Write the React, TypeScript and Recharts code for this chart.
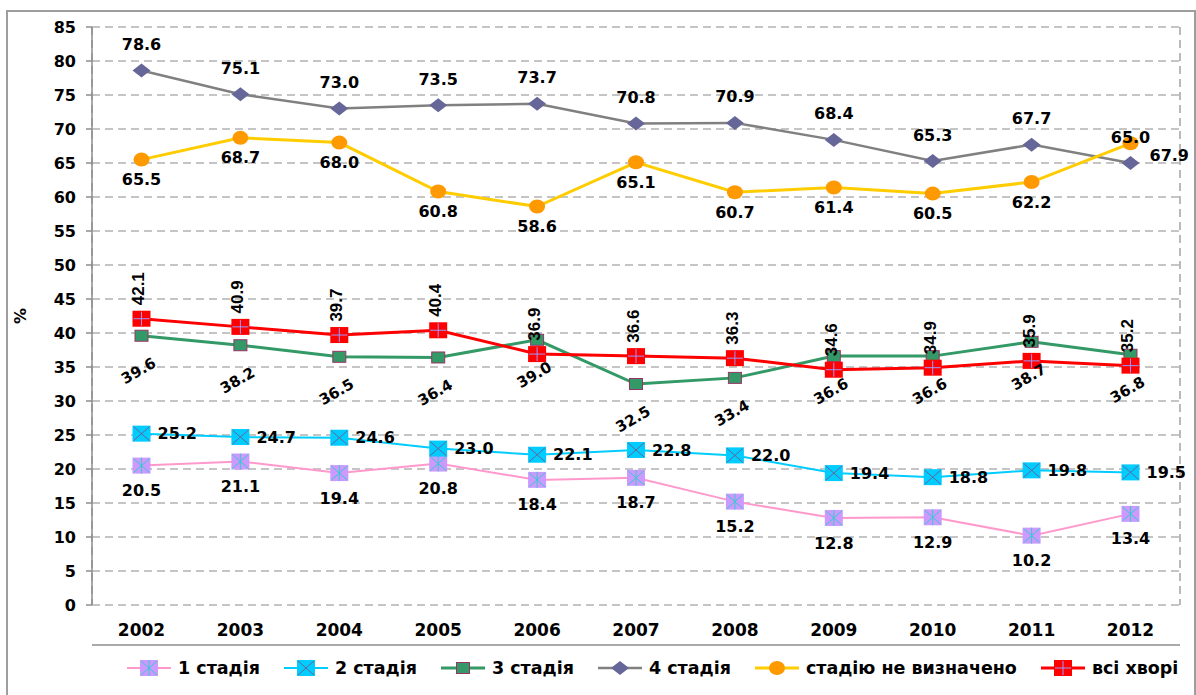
import React from 'react';
import { LineChart, Line, XAxis, YAxis, CartesianGrid, LabelList, Legend } from 'recharts';

const years = ['2002', '2003', '2004', '2005', '2006', '2007', '2008', '2009', '2010', '2011', '2012'];
const stage1 = [20.5, 21.1, 19.4, 20.8, 18.4, 18.7, 15.2, 12.8, 12.9, 10.2, 13.4];
const stage2 = [25.2, 24.7, 24.6, 23.0, 22.1, 22.8, 22.0, 19.4, 18.8, 19.8, 19.5];
const stage3 = [39.6, 38.2, 36.5, 36.4, 39.0, 32.5, 33.4, 36.6, 36.6, 38.7, 36.8];
const stage4 = [78.6, 75.1, 73.0, 73.5, 73.7, 70.8, 70.9, 68.4, 65.3, 67.7, 65.0];
const undetermined = [65.5, 68.7, 68.0, 60.8, 58.6, 65.1, 60.7, 61.4, 60.5, 62.2, 67.9];
const allPatients = [42.1, 40.9, 39.7, 40.4, 36.9, 36.6, 36.3, 34.6, 34.9, 35.9, 35.2];
const yTicks = [0, 5, 10, 15, 20, 25, 30, 35, 40, 45, 50, 55, 60, 65, 70, 75, 80, 85];
const bandBoundaries = [0, 1, 2, 3, 4, 5, 6, 7, 8, 9, 10, 11];
const seriesNames = ['1 стадія', '2 стадія', '3 стадія', '4 стадія', 'стадію не визначено', 'всі хворі'];

const data = years.map((year, i) => ({
  year,
  s1: stage1[i],
  s2: stage2[i],
  s3: stage3[i],
  s4: stage4[i],
  s5: undetermined[i],
  s6: allPatients[i],
}));

const WIDE = '"DejaVu Sans", sans-serif';
const NARROW = '"Liberation Sans", Arial, sans-serif';

type MarkerFn = (cx: number, cy: number) => React.ReactNode;

const markers: Record<string, MarkerFn> = {
  s1: (cx, cy) => (
    <>
      <rect x={cx - 9} y={cy - 8} width={18} height={16} fill="#CC99FF" />
      <path
        d={`M${cx - 8},${cy - 7}L${cx + 8},${cy + 7}M${cx - 8},${cy + 7}L${cx + 8},${cy - 7}M${cx},${cy - 8}V${cy + 8}`}
        stroke="#33CCCC"
        strokeWidth={1}
      />
    </>
  ),
  s2: (cx, cy) => (
    <>
      <rect x={cx - 9} y={cy - 8} width={18} height={16} fill="#00CCFF" />
      <path
        d={`M${cx - 8},${cy - 7}L${cx + 8},${cy + 7}M${cx - 8},${cy + 7}L${cx + 8},${cy - 7}`}
        stroke="#666699"
        strokeWidth={1}
      />
    </>
  ),
  s3: (cx, cy) => (
    <rect x={cx - 6.5} y={cy - 5.5} width={13} height={11} fill="#339966" stroke="#993366" strokeWidth={1} />
  ),
  s4: (cx, cy) => (
    <polygon points={`${cx},${cy - 7} ${cx + 9},${cy} ${cx},${cy + 7} ${cx - 9},${cy}`} fill="#666699" />
  ),
  s5: (cx, cy) => <ellipse cx={cx} cy={cy} rx={8} ry={7} fill="#FF9900" />,
  s6: (cx, cy) => (
    <>
      <rect x={cx - 9} y={cy - 8} width={18} height={16} fill="#FF0000" />
      <path d={`M${cx - 8},${cy}H${cx + 8}M${cx},${cy - 7}V${cy + 7}`} stroke="#9999FF" strokeWidth={1} />
    </>
  ),
};

const seriesStyle = [
  { key: 's1', color: '#FF99CC', width: 2 },
  { key: 's2', color: '#00CCFF', width: 2 },
  { key: 's3', color: '#339966', width: 3 },
  { key: 's4', color: '#808080', width: 2.5 },
  { key: 's5', color: '#FFCC00', width: 3 },
  { key: 's6', color: '#FF0000', width: 3 },
];

const makeDot = (key: string) => (p: any) => {
  if (p.cx == null || p.cy == null) return <g key={`${key}-${p.index}`} />;
  return <g key={`${key}-${p.index}`}>{markers[key](p.cx, p.cy)}</g>;
};

const fmt = (v: any) => Number(v).toFixed(1);

const labelStyle = { fontFamily: WIDE, fontWeight: 'bold' as const, fontSize: 16, fill: '#000' };

const labelAbove = (p: any) => (
  <text x={p.x} y={p.y - 26} dy="0.35em" textAnchor="middle" {...labelStyle}>
    {fmt(p.value)}
  </text>
);

const labelBelowS1 = (p: any) => (
  <text x={p.x} y={p.y + 25} dy="0.35em" textAnchor="middle" {...labelStyle}>
    {fmt(p.value)}
  </text>
);

const labelBelowS5 = (p: any) => {
  const last = p.index === years.length - 1;
  if (last) {
    return (
      <text x={p.x + 19} y={p.y + 12} dy="0.35em" textAnchor="start" {...labelStyle}>
        {fmt(p.value)}
      </text>
    );
  }
  return (
    <text x={p.x} y={p.y + 20} dy="0.35em" textAnchor="middle" {...labelStyle}>
      {fmt(p.value)}
    </text>
  );
};

const labelRight = (p: any) => (
  <text x={p.x + 16} y={p.y} dy="0.35em" textAnchor="start" {...labelStyle}>
    {fmt(p.value)}
  </text>
);

const labelVertical = (p: any) => {
  const cx = p.x - 3;
  const cy = p.y - 30;
  return (
    <text
      x={cx}
      y={cy}
      dy="0.35em"
      textAnchor="middle"
      transform={`rotate(-90 ${cx} ${cy})`}
      fontFamily={NARROW}
      fontWeight="bold"
      fontSize={17}
      fill="#000"
    >
      {fmt(p.value)}
    </text>
  );
};

const labelSlanted = (p: any) => {
  const cx = p.x - 3;
  const cy = p.y + 35;
  return (
    <text
      x={cx}
      y={cy}
      dy="0.35em"
      textAnchor="middle"
      transform={`rotate(-30 ${cx} ${cy})`}
      fontFamily={WIDE}
      fontWeight="bold"
      fontSize={15}
      fill="#000"
    >
      {fmt(p.value)}
    </text>
  );
};

const labelFns: Record<string, (p: any) => React.ReactNode> = {
  s1: labelBelowS1,
  s2: labelRight,
  s3: labelSlanted,
  s4: labelAbove,
  s5: labelBelowS5,
  s6: labelVertical,
};

const renderLegend = () => (
  <div
    style={{
      height: 49,
      display: 'flex',
      alignItems: 'center',
      paddingLeft: 127,
      paddingBottom: 5,
      boxSizing: 'border-box',
      fontFamily: WIDE,
      fontWeight: 'bold',
      fontSize: 17.5,
      color: '#000',
      whiteSpace: 'nowrap',
    }}
  >
    {seriesStyle.map((s, i) => (
      <div key={s.key} style={{ display: 'flex', alignItems: 'center', marginRight: 24 }}>
        <svg width={44} height={18} style={{ display: 'block' }}>
          <line x1={0} y1={9} x2={44} y2={9} stroke={s.color} strokeWidth={s.width} />
          {markers[s.key](22, 9)}
        </svg>
        <span style={{ marginLeft: 7 }}>{seriesNames[i]}</span>
      </div>
    ))}
  </div>
);

const tickStyle = { fontFamily: WIDE, fontWeight: 'bold' as const, fill: '#000' };

export default function App() {
  return (
    <div style={{ position: 'relative', width: 1196, height: 695, overflow: 'hidden', background: '#fff' }}>
      <style>{'body{margin:0;overflow:hidden;}'}</style>
      <div
        style={{
          position: 'absolute',
          left: 6,
          top: 10,
          width: 1186,
          height: 720,
          border: '2px solid #9E9E9E',
        }}
      />
      <div style={{ position: 'absolute', left: 0, top: 0 }}>
        <LineChart width={1196} height={695} data={data} margin={{ top: 27, right: 16, bottom: 0, left: 8 }}>
          <CartesianGrid
            xAxisId="grid"
            yAxisId="y"
            stroke="#8C8C8C"
            strokeDasharray="8 5"
            strokeWidth={1.2}
          />
          <XAxis
            xAxisId="grid"
            type="number"
            domain={[0, 11]}
            allowDataOverflow
            ticks={bandBoundaries}
            tick={false}
            tickSize={7}
            height={1}
            stroke="#8C8C8C"
            strokeWidth={1.5}
          />
          <XAxis
            xAxisId="cat"
            dataKey="year"
            type="category"
            padding={{ left: 49.5, right: 49.5 }}
            axisLine={false}
            tickLine={false}
            tickSize={0}
            tickMargin={19}
            height={40}
            interval={0}
            tick={{ ...tickStyle, fontSize: 17 }}
          />
          <YAxis
            yAxisId="y"
            domain={[0, 85]}
            ticks={yTicks}
            interval={0}
            width={84}
            tickSize={6}
            tickMargin={10}
            stroke="#8C8C8C"
            strokeWidth={1.5}
            tick={{ ...tickStyle, fontSize: 16 }}
            label={(props: any) => {
              const vb = props.viewBox || {};
              const x = (vb.x ?? 8) + 12;
              const y = (vb.y ?? 27) + (vb.height ?? 578) / 2;
              return (
                <text
                  x={x}
                  y={y}
                  dy="0.35em"
                  textAnchor="middle"
                  transform={`rotate(-90 ${x} ${y})`}
                  fontFamily={WIDE}
                  fontWeight="bold"
                  fontSize={16}
                  fill="#000"
                >
                  %
                </text>
              );
            }}
          />
          <Legend
            verticalAlign="bottom"
            height={49}
            content={renderLegend}
            wrapperStyle={{ left: 0, bottom: 0, width: 1196, height: 49 }}
          />
          {seriesStyle.map((s, i) => (
            <Line
              key={s.key}
              xAxisId="cat"
              yAxisId="y"
              type="linear"
              dataKey={s.key}
              name={seriesNames[i]}
              stroke={s.color}
              strokeWidth={s.width}
              dot={makeDot(s.key)}
              activeDot={false}
              isAnimationActive={false}
            >
              <LabelList dataKey={s.key} content={labelFns[s.key] as any} />
            </Line>
          ))}
        </LineChart>
      </div>
    </div>
  );
}
